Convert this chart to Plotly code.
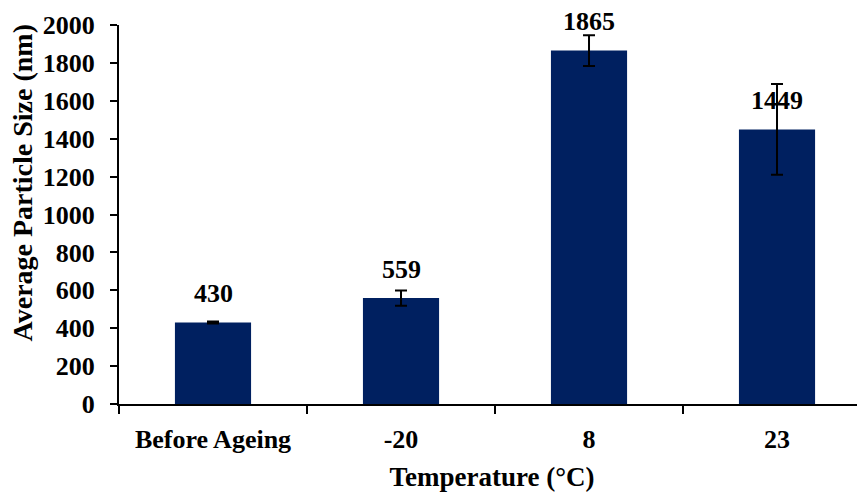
import plotly.graph_objects as go

categories = ["Before Ageing", "-20", "8", "23"]
sizes = [430, 559, 1865, 1449]
errors = [5, 40, 81, 239]
y_ticks = [0, 200, 400, 600, 800, 1000, 1200, 1400, 1600, 1800, 2000]
y_title = "Average Particle Size (nm)"
x_title = "Temperature (°C)"

FONT = "Liberation Serif, Times New Roman, serif"
FS = 26

fig = go.Figure()
fig.add_trace(go.Bar(
    x=list(range(len(categories))), y=sizes,
    marker=dict(color="#002060", line=dict(width=0)),
    error_y=dict(type="data", array=errors, visible=True, color="black", thickness=2, width=6),
    width=0.405,
))

for i, v in enumerate(sizes):
    fig.add_annotation(x=i, y=v, text=str(v), showarrow=False, yshift=29,
                       font=dict(family=FONT, size=FS, color="black", weight="bold"))

# y-axis title placed as a rotated annotation (sits slightly above the plot centre, as in the reference)
fig.add_annotation(xref="paper", yref="paper", x=-0.130, y=0.582, text=y_title,
                   textangle=-90, showarrow=False, xanchor="center", yanchor="middle",
                   font=dict(family=FONT, size=28, color="black", weight="bold"))

# page body has an 8px margin, so the figure is sized to the visible area
fig.update_layout(
    width=857, height=484,
    margin=dict(l=111, r=0, t=17, b=88, autoexpand=False),
    paper_bgcolor="white", plot_bgcolor="white",
    showlegend=False,
    font=dict(family=FONT, size=FS, color="black", weight="bold"),
)
fig.update_xaxes(
    range=[-0.5, 3.468],
    tickvals=list(range(len(categories))), ticktext=categories,
    showline=True, linecolor="black", linewidth=2,
    ticks="", showgrid=False, zeroline=False,
    ticklabelstandoff=11,
    minor=dict(tickvals=[-0.5, 0.5, 1.5, 2.5, 3.5], ticks="outside", ticklen=8, tickwidth=2, tickcolor="black", showgrid=False),
    tickfont=dict(family=FONT, size=FS, weight="bold"),
    title=dict(text=x_title, font=dict(family=FONT, size=27, weight="bold"), standoff=14),
    automargin=False,
)
fig.update_yaxes(
    range=[0, 2000], tickvals=y_ticks,
    showline=True, linecolor="black", linewidth=2,
    ticks="outside", ticklen=7, tickwidth=2, tickcolor="black",
    ticklabelstandoff=10,
    tickfont=dict(family=FONT, size=FS, weight="bold"),
    showgrid=False, zeroline=False, automargin=False,
)

fig.write_html("out.html")
